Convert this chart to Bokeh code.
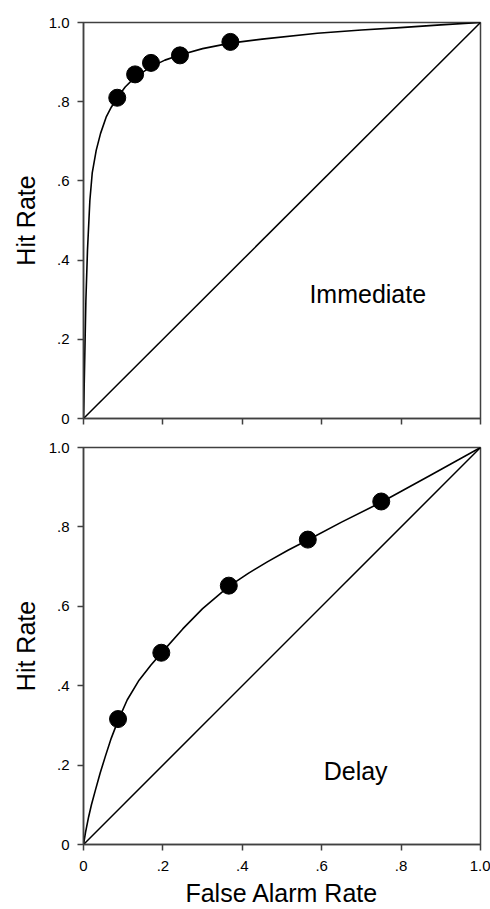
from bokeh.plotting import figure
from bokeh.layouts import column
from bokeh.models import FixedTicker, Range1d, Label
from bokeh.embed import file_html
from bokeh.resources import INLINE

# ---- data ----
tick_values = [0.0, 0.2, 0.4, 0.6, 0.8, 1.0]
tick_labels = ["0", ".2", ".4", ".6", ".8", "1.0"]

chance_line = [0.0, 1.0]

imm_fa = [0.085, 0.130, 0.170, 0.243, 0.370]
imm_hit = [0.810, 0.869, 0.898, 0.917, 0.951]

imm_curve_fa = [0.0, 0.001, 0.004, 0.006, 0.010, 0.016, 0.022, 0.032, 0.043, 0.057,
                0.070, 0.085, 0.105, 0.130, 0.170, 0.205, 0.243, 0.300, 0.370, 0.450,
                0.589, 0.700, 0.798, 0.900, 1.0]
imm_curve_hit = [0.0, 0.045, 0.197, 0.298, 0.424, 0.550, 0.620, 0.677, 0.720, 0.761,
                 0.786, 0.810, 0.837, 0.862, 0.888, 0.905, 0.918, 0.934, 0.948, 0.958,
                 0.973, 0.981, 0.987, 0.994, 1.0]

delay_fa = [0.087, 0.196, 0.366, 0.565, 0.750]
delay_hit = [0.316, 0.483, 0.652, 0.768, 0.864]

delay_curve_fa = [0.0, 0.005, 0.013, 0.020, 0.030, 0.042, 0.055, 0.070, 0.087, 0.110,
                  0.140, 0.170, 0.196, 0.250, 0.300, 0.366, 0.415, 0.463, 0.515, 0.565,
                  0.650, 0.750, 0.874, 1.0]
delay_curve_hit = [0.0, 0.030, 0.070, 0.100, 0.137, 0.180, 0.222, 0.268, 0.312, 0.364,
                   0.414, 0.452, 0.482, 0.543, 0.594, 0.650, 0.683, 0.712, 0.741, 0.767,
                   0.812, 0.862, 0.930, 1.0]

FONT = "Liberation Sans"
AXIS_COLOR = "#404040"


def make_panel(fa, hit, curve_fa, curve_hit, label_text, lx, ly, show_x_labels,
               frame_h, top_border, bottom_border):
    p = figure(frame_width=397, frame_height=frame_h,
               x_range=Range1d(0, 1), y_range=Range1d(0, 1),
               output_backend="svg", toolbar_location=None,
               min_border_left=83, min_border_right=10,
               min_border_top=top_border, min_border_bottom=bottom_border)
    p.background_fill_color = "white"
    p.border_fill_color = "white"
    p.grid.visible = False
    p.outline_line_color = AXIS_COLOR
    p.outline_line_width = 1.5

    p.line(chance_line, chance_line, line_color="black", line_width=1.5)
    p.line(curve_fa, curve_hit, line_color="black", line_width=1.6,
           line_join="round")
    p.scatter(fa, hit, size=17, fill_color="black", line_color="black")

    for ax in (p.xaxis[0], p.yaxis[0]):
        ax.ticker = FixedTicker(ticks=tick_values)
        ax.major_label_overrides = {v: s for v, s in zip(tick_values, tick_labels)}
        ax.axis_line_color = AXIS_COLOR
        ax.axis_line_width = 1.5
        ax.major_tick_line_color = AXIS_COLOR
        ax.major_tick_line_width = 1.5
        ax.major_tick_in = 0
        ax.major_tick_out = 6
        ax.minor_tick_line_color = None
        ax.major_label_text_font = FONT
        ax.major_label_text_font_size = "15px"
        ax.major_label_text_color = "black"
        ax.axis_label_text_font = FONT
        ax.axis_label_text_font_size = "25px"
        ax.axis_label_text_font_style = "normal"
        ax.axis_label_text_color = "black"

    p.yaxis.axis_label = "Hit Rate"
    p.yaxis.major_label_standoff = 8
    p.yaxis.axis_label_standoff = 6

    if show_x_labels:
        p.xaxis.axis_label = "False Alarm Rate"
        p.xaxis.major_label_standoff = 10
        p.xaxis.axis_label_standoff = 5
    else:
        # ticks only, no tick labels on the upper panel
        p.xaxis.major_label_text_color = None
        p.xaxis.major_label_text_font_size = "1px"
        p.xaxis.major_label_standoff = 0

    p.add_layout(Label(x=lx, y=ly, text=label_text, text_font=FONT,
                       text_font_size="25px", text_color="black",
                       text_baseline="alphabetic"))
    return p


p1 = make_panel(imm_fa, imm_hit, imm_curve_fa, imm_curve_hit, "Immediate",
                0.569, 0.314, False, 396, 22, 15)
p2 = make_panel(delay_fa, delay_hit, delay_curve_fa, delay_curve_hit, "Delay",
                0.605, 0.184, True, 397, 14, 0)

layout = column(p1, p2, spacing=0)
open("out.html", "w").write(file_html(layout, INLINE))
